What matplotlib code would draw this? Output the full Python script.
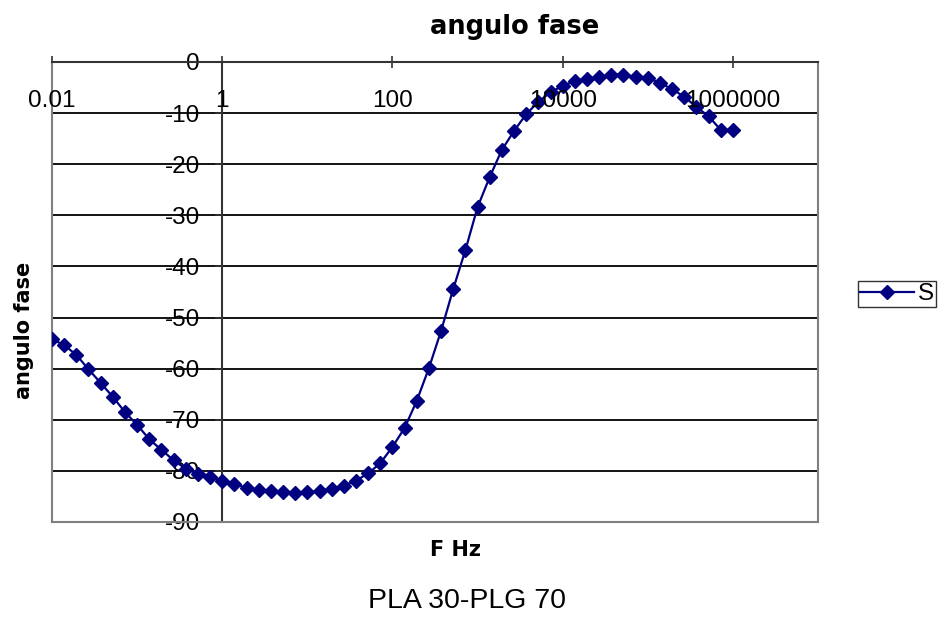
import matplotlib
matplotlib.use("Agg")
import matplotlib.pyplot as plt

plt.rcParams['font.family'] = ['Liberation Sans', 'DejaVu Sans']
plt.rcParams['axes.unicode_minus'] = False

# Frequency sweep (Hz), seven points per decade
freq_hz = [
    0.01, 0.0139, 0.0193, 0.0268, 0.0373, 0.0518, 0.072,
    0.1, 0.139, 0.193, 0.268, 0.373, 0.518, 0.72,
    1, 1.39, 1.93, 2.68, 3.73, 5.18, 7.2,
    10, 13.9, 19.3, 26.8, 37.3, 51.8, 72,
    100, 139, 193, 268, 373, 518, 720,
    1000, 1390, 1930, 2680, 3730, 5180, 7200,
    10000, 13900, 19300, 26800, 37300, 51800, 72000,
    100000, 139000, 193000, 268000, 373000, 518000, 720000,
    1000000,
]

# Phase angle (degrees) for series S
phase_deg = [
    -54.2, -55.4, -57.3, -60.1, -62.8, -65.5, -68.5,
    -71.0, -73.8, -75.9, -77.9, -79.6, -80.6, -81.2,
    -82.0, -82.6, -83.3, -83.7, -83.9, -84.1, -84.3,
    -84.1, -83.9, -83.5, -82.9, -81.9, -80.5, -78.5,
    -75.3, -71.6, -66.3, -59.9, -52.6, -44.4, -36.8,
    -28.4, -22.5, -17.2, -13.5, -10.2, -7.8, -5.9,
    -4.7, -3.7, -3.3, -2.9, -2.5, -2.5, -2.9,
    -3.1, -4.1, -5.3, -6.8, -8.8, -10.6, -13.3,
    -13.3,
]

x_ticks = [0.01, 1, 100, 10000, 1000000]
x_tick_labels = ["0.01", "1", "100", "10000", "1000000"]
y_ticks = list(range(-90, 1, 10))

W, H = 947, 623
fig = plt.figure(figsize=(W / 100, H / 100), dpi=100)
ax = fig.add_axes([52 / W, 1 - 522 / H, (818 - 52) / W, (522 - 62) / H])

ax.set_xscale('log')
ax.set_xlim(0.01, 1e7)
ax.set_ylim(-90, 0)

# horizontal gridlines
for v in y_ticks[1:-1]:
    ax.axhline(v, color='black', lw=1.3, zorder=1)

ax.plot(freq_hz, phase_deg, color='#000080', lw=1.6, marker='D',
        markersize=7.5, label='S', zorder=3)

# frame: value axis crosses at 1 Hz, category axis at 0 deg (top)
ax.spines['left'].set_position(('data', 1))
ax.spines['left'].set_color('#333333')
ax.spines['left'].set_linewidth(1.5)
ax.spines['top'].set_color('#333333')
ax.spines['top'].set_linewidth(1.5)
for s in ('right', 'bottom'):
    ax.spines[s].set_color('#808080')
    ax.spines[s].set_linewidth(1.5)
ax.axvline(0.01, color='#808080', lw=1.5, clip_on=False, zorder=2)

ax.set_yticks(y_ticks)
ax.tick_params(axis='y', direction='out', length=5, width=1.2,
               labelsize=17.5, pad=11, color='#333333')

ax.set_xticks(x_ticks)
ax.xaxis.set_minor_locator(matplotlib.ticker.NullLocator())
ax.tick_params(axis='x', top=True, bottom=False, labeltop=False,
               labelbottom=False, direction='inout', length=9, width=1.2,
               color='#333333')
for f, lab in zip(x_ticks, x_tick_labels):
    ax.annotate(lab, xy=(f, 0), xycoords='data', xytext=(0, -28),
                textcoords='offset points', ha='center', va='center',
                fontsize=17.5)

bold = ['DejaVu Sans']
fig.text(515 / W, 1 - 27 / H, 'angulo fase', ha='center', va='center',
         fontsize=18.5, fontweight='bold', family=bold)
fig.text(24 / W, 1 - 330 / H, 'angulo fase', ha='center', va='center',
         rotation=90, fontsize=15, fontweight='bold', family=bold)
fig.text(455 / W, 1 - 550 / H, 'F Hz', ha='center', va='center',
         fontsize=15, fontweight='bold', family=bold)
fig.text(467 / W, 1 - 601 / H, 'PLA 30-PLG 70', ha='center', va='center',
         fontsize=20.5)

leg = ax.legend(loc='center left', bbox_to_anchor=(858 / W, 1 - 294 / H),
                bbox_transform=fig.transFigure, frameon=True, fancybox=False,
                fontsize=17.5, handlelength=2.2, handletextpad=0.15,
                borderpad=0.1, borderaxespad=0, markerscale=0.9)
leg.get_frame().set_edgecolor('black')
leg.get_frame().set_linewidth(1.0)

fig.savefig('out.png', dpi=100)
